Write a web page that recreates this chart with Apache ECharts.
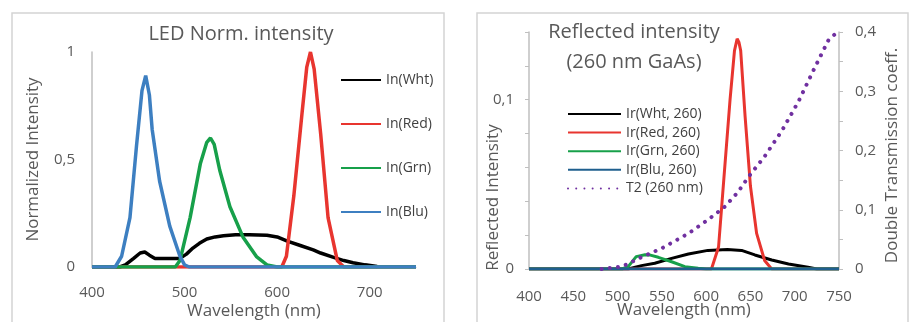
<!DOCTYPE html>
<html>
<head>
<meta charset="utf-8">
<script src="https://cdn.jsdelivr.net/npm/echarts@6/dist/echarts.min.js"></script>
<style>
  html, body { margin: 0; padding: 0; background: #fff; }
  #chart { width: 914px; height: 322px; }
</style>
</head>
<body>
<div id="chart"></div>
<script>
// LED normalized spectra (left panel)
const ledWhtX = [400, 430, 436, 445, 452, 457, 462, 468, 480, 495, 502, 509, 516, 524, 533, 542, 555, 570, 589, 600, 611, 625, 639, 647, 661, 672, 682, 695, 708];
const ledWhtY = [0, 0, 0.01, 0.04, 0.065, 0.07, 0.055, 0.04, 0.04, 0.04, 0.06, 0.088, 0.11, 0.13, 0.14, 0.145, 0.15, 0.15, 0.148, 0.14, 0.12, 0.1, 0.08, 0.065, 0.045, 0.03, 0.02, 0.01, 0.002];
const ledRedX = [400, 605, 610, 618, 627, 632, 636, 640, 647, 655, 665, 672, 750];
const ledRedY = [0, 0, 0.05, 0.33, 0.72, 0.93, 1.0, 0.92, 0.62, 0.23, 0.03, 0, 0];
const ledGrnX = [400, 490, 495, 506, 517, 524, 528, 532, 538, 549, 563, 578, 589, 600, 750];
const ledGrnY = [0, 0, 0.03, 0.23, 0.48, 0.58, 0.6, 0.57, 0.45, 0.28, 0.14, 0.047, 0.01, 0, 0];
const ledBluX = [400, 425, 432, 441, 448, 454, 458, 462, 465, 473, 484, 495, 500, 505, 750];
const ledBluY = [0, 0, 0.05, 0.23, 0.56, 0.82, 0.89, 0.8, 0.64, 0.4, 0.19, 0.05, 0.01, 0, 0];

// reflected intensity (right panel)
const irWhtX = [400, 512, 527, 542, 561, 580, 602, 624, 640, 655, 674, 693, 715, 725, 750];
const irWhtY = [0, 0, 0.002, 0.0034, 0.0063, 0.0089, 0.011, 0.0115, 0.011, 0.0083, 0.0053, 0.003, 0.001, 0, 0];
const irRedX = [400, 606, 614, 621, 627, 632, 635, 637, 639, 644, 650, 657, 666, 674, 750];
const irRedY = [0, 0, 0.013, 0.06, 0.1, 0.129, 0.136, 0.134, 0.129, 0.09, 0.049, 0.021, 0.005, 0, 0];
const irGrnX = [400, 505, 512, 521, 531, 537, 546, 561, 576, 591, 600, 750];
const irGrnY = [0, 0, 0.0014, 0.0073, 0.0084, 0.0082, 0.0069, 0.0043, 0.0014, 0.0005, 0, 0];
const irBluX = [400, 750];
const irBluY = [0, 0];
const t2X = [482, 505, 527, 550, 580, 602, 621, 636, 648, 666, 685, 704, 723, 738, 748];
const t2Y = [0, 0.004, 0.02, 0.035, 0.06, 0.083, 0.105, 0.13, 0.156, 0.19, 0.232, 0.282, 0.341, 0.386, 0.4];

const ledNames = ['In(Wht)', 'In(Red)', 'In(Grn)', 'In(Blu)'];
const irNames = ['Ir(Wht, 260)', 'Ir(Red, 260)', 'Ir(Grn, 260)', 'Ir(Blu, 260)', 'T2 (260 nm)'];

const zip = (xs, ys) => xs.map((x, i) => [x, ys[i]]);
const comma = v => String(+v.toFixed(2)).replace('.', ',');

const font = 'Open Sans';
const grey = '#595959';
const axisGrey = '#bfbfbf';

const myChart = echarts.init(document.getElementById('chart'));

function line(name, xs, ys, color, xi, yi, w, extra) {
  return Object.assign({
    name: name,
    type: 'line',
    xAxisIndex: xi,
    yAxisIndex: yi,
    symbol: 'none',
    animation: false,
    data: zip(xs, ys),
    lineStyle: { color: color, width: w },
    itemStyle: { color: color }
  }, extra || {});
}

const option = {
  backgroundColor: '#fff',
  textStyle: { fontFamily: font },
  title: [
    {
      text: 'LED Norm. intensity',
      left: 236, top: 19, textAlign: 'center',
      textStyle: { fontFamily: font, fontSize: 20, fontWeight: 'normal', color: grey }
    },
    {
      text: 'Reflected intensity\n(260 nm GaAs)',
      left: 629, top: 12, textAlign: 'center',
      textStyle: { fontFamily: font, fontSize: 20, fontWeight: 'normal', color: grey, lineHeight: 30 }
    }
  ],
  graphic: [
    { type: 'rect', shape: { x: 12, y: 13, width: 432, height: 330 }, style: { fill: 'none', stroke: '#d4d4d4', lineWidth: 1.5 }, z: -1 },
    { type: 'rect', shape: { x: 477, y: 13, width: 431, height: 330 }, style: { fill: 'none', stroke: '#d4d4d4', lineWidth: 1.5 }, z: -1 }
  ],
  legend: [
    {
      data: ledNames,
      orient: 'vertical',
      left: 340, top: 73,
      itemWidth: 40, itemHeight: 10, itemGap: 30,
      padding: 0,
      itemStyle: { opacity: 0 },
      textStyle: { fontFamily: font, fontSize: 14, color: '#404040' }
    },
    {
      data: irNames,
      orient: 'vertical',
      left: 567, top: 107,
      itemWidth: 53, itemHeight: 10, itemGap: 4.6,
      padding: 0,
      itemStyle: { opacity: 0 },
      textStyle: { fontFamily: font, fontSize: 14, color: '#404040' }
    }
  ],
  grid: [
    { left: 92, top: 52, right: 498, bottom: 55, containLabel: false, outerBoundsMode: 'none' },
    { left: 529, top: 32, right: 75, bottom: 53, containLabel: false, outerBoundsMode: 'none' }
  ],
  xAxis: [
    {
      type: 'value', gridIndex: 0, min: 400, max: 750, interval: 100,
      name: 'Wavelength (nm)', nameLocation: 'middle', nameGap: 36, nameMoveOverlap: false,
      nameTextStyle: { fontFamily: font, fontSize: 17, color: grey },
      axisLine: { show: true, lineStyle: { color: axisGrey } },
      axisTick: { show: false },
      axisLabel: { fontSize: 15, color: grey, margin: 18, showMaxLabel: false },
      splitLine: { show: false }
    },
    {
      type: 'value', gridIndex: 1, min: 400, max: 750, interval: 50,
      name: 'Wavelength (nm)', nameLocation: 'middle', nameGap: 33, nameMoveOverlap: false,
      nameTextStyle: { fontFamily: font, fontSize: 17, color: grey },
      axisLine: { show: true, lineStyle: { color: axisGrey } },
      axisTick: { show: false },
      axisLabel: { fontSize: 15, color: grey, margin: 20 },
      splitLine: { show: false }
    }
  ],
  yAxis: [
    {
      type: 'value', gridIndex: 0, min: 0, max: 1, interval: 0.5,
      name: 'Normalized Intensity', nameLocation: 'middle', nameGap: 50, nameMoveOverlap: false,
      nameTextStyle: { fontFamily: font, fontSize: 17, color: grey },
      axisLine: { show: true, lineStyle: { color: axisGrey, width: 1.5 } },
      axisTick: { show: false },
      axisLabel: { fontSize: 15, color: grey, margin: 17, formatter: comma },
      splitLine: { show: false }
    },
    {
      type: 'value', gridIndex: 1, min: 0, max: 0.14, interval: 0.02,
      name: 'Reflected Intensity', nameLocation: 'middle', nameGap: 27, nameMoveOverlap: false,
      nameTextStyle: { fontFamily: font, fontSize: 17, color: grey, padding: [0, 94, 0, 0] },
      axisLine: { show: true, lineStyle: { color: axisGrey, width: 1.5 } },
      axisTick: { show: true, inside: false, length: 4, lineStyle: { color: axisGrey } },
      axisLabel: {
        fontSize: 15, color: grey, margin: 15,
        formatter: v => (Math.abs(v) < 1e-9 ? '0' : Math.abs(v - 0.1) < 1e-9 ? '0,1' : '')
      },
      splitLine: { show: false }
    },
    {
      type: 'value', gridIndex: 1, position: 'right', min: 0, max: 0.4, interval: 0.05,
      name: 'Double Transmission coeff.', nameLocation: 'middle', nameGap: 45, nameMoveOverlap: false,
      nameTextStyle: { fontFamily: font, fontSize: 17, color: grey, padding: [0, 10, 0, 0] },
      axisLine: { show: true, lineStyle: { color: axisGrey, width: 1.5 } },
      axisTick: { show: true, inside: false, length: 4, lineStyle: { color: axisGrey } },
      axisLabel: {
        fontSize: 15, color: grey, margin: 16,
        formatter: v => (Math.round(v * 100) % 10 === 0 ? comma(v) : '')
      },
      splitLine: { show: false }
    }
  ],
  series: [
    line('In(Wht)', ledWhtX, ledWhtY, '#000000', 0, 0, 3.5),
    line('In(Red)', ledRedX, ledRedY, '#e8352f', 0, 0, 3.5),
    line('In(Grn)', ledGrnX, ledGrnY, '#17a04a', 0, 0, 3.5),
    line('In(Blu)', ledBluX, ledBluY, '#3d7fc1', 0, 0, 3.5),

    line('Ir(Wht, 260)', irWhtX, irWhtY, '#000000', 1, 1, 3),
    line('Ir(Red, 260)', irRedX, irRedY, '#e8352f', 1, 1, 3),
    line('Ir(Grn, 260)', irGrnX, irGrnY, '#17a04a', 1, 1, 3),
    line('Ir(Blu, 260)', irBluX, irBluY, '#1f5f8e', 1, 1, 3),
    line('T2 (260 nm)', t2X, t2Y, '#7030a0', 1, 2, 4, {
      lineStyle: { color: '#7030a0', width: 4, type: [0.01, 8.2], cap: 'round' }
    })
  ]
};

myChart.setOption(option);
</script>
</body>
</html>
